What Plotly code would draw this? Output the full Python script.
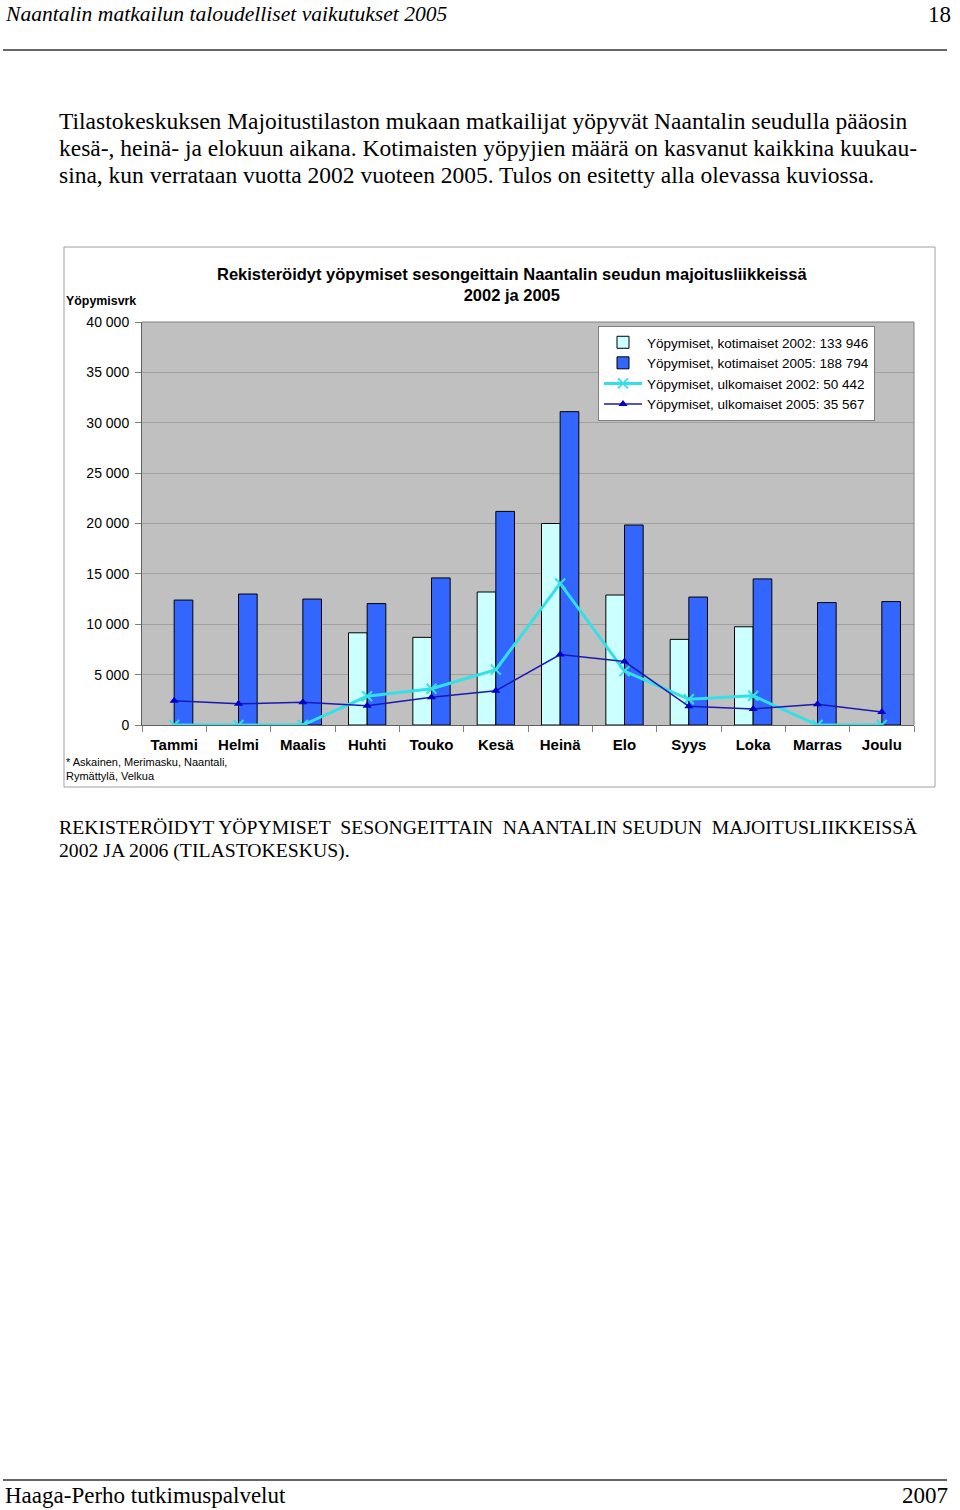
import plotly.graph_objects as go

# Kuukaudet ja yöpymiset (luettu kuvasta)
months = ["Tammi", "Helmi", "Maalis", "Huhti", "Touko", "Kesä",
          "Heinä", "Elo", "Syys", "Loka", "Marras", "Joulu"]
koti_2002 = [0, 0, 0, 9150, 8700, 13200, 20000, 12900, 8500, 9750, 0, 0]
koti_2005 = [12400, 13000, 12500, 12050, 14600, 21200, 31100, 19850, 12700, 14500, 12150, 12250]
ulko_2002 = [0, 0, 0, 2850, 3600, 5500, 14050, 5350, 2550, 2900, 0, 0]
ulko_2005 = [2400, 2100, 2250, 1900, 2750, 3400, 7000, 6300, 1850, 1600, 2050, 1300]

legend_names = [
    "Yöpymiset, kotimaiset 2002: 133 946",
    "Yöpymiset, kotimaiset 2005: 188 794",
    "Yöpymiset, ulkomaiset 2002: 50 442",
    "Yöpymiset, ulkomaiset 2005: 35 567",
]

paragraph = [
    "Tilastokeskuksen Majoitustilaston mukaan matkailijat yöpyvät Naantalin seudulla pääosin",
    "kesä-, heinä- ja elokuun aikana. Kotimaisten yöpyjien määrä on kasvanut kaikkina kuukau-",
    "sina, kun verrataan vuotta 2002 vuoteen 2005. Tulos on esitetty alla olevassa kuviossa.",
]
caption = [
    "REKISTERÖIDYT YÖPYMISET  SESONGEITTAIN  NAANTALIN SEUDUN  MAJOITUSLIIKKEISSÄ",
    "2002 JA 2006 (TILASTOKESKUS).",
]

W, H = 960, 1510
PL, PR, PT, PB = 142, 914, 322, 725  # plot area in page pixels


def px(x):
    return (x - PL) / (PR - PL)


def py(y):
    return (PB - y) / (PB - PT)


SANS = "Liberation Sans, Arial, sans-serif"
SERIF = "Liberation Serif, Times New Roman, serif"

fig = go.Figure()
# empty months are not drawn as bars in the original
fig.add_trace(go.Bar(x=months, y=[v if v else None for v in koti_2002], name=legend_names[0],
                     marker=dict(color="#CCFFFF", line=dict(color="black", width=1))))
fig.add_trace(go.Bar(x=months, y=koti_2005, name=legend_names[1],
                     marker=dict(color="#3366FF", line=dict(color="black", width=1))))
fig.add_trace(go.Scatter(x=months, y=ulko_2002, name=legend_names[2], mode="lines+markers",
                         line=dict(color="#33E0E8", width=3),
                         marker=dict(symbol="x-thin", size=10, line=dict(color="#33E0E8", width=2))))
fig.add_trace(go.Scatter(x=months, y=ulko_2005, name=legend_names[3], mode="lines+markers",
                         line=dict(color="#1A1AB0", width=1.5),
                         marker=dict(symbol="triangle-up", size=8, color="#0000CC")))

fig.update_layout(
    width=W, height=H, autosize=False,
    margin=dict(l=PL, r=W - PR, t=PT, b=H - PB),
    paper_bgcolor="white", plot_bgcolor="#C0C0C0",
    barmode="group", bargap=0.42, bargroupgap=0,
    separators=", ",
    font=dict(family=SANS, color="black", size=13),
    legend=dict(x=px(598), y=py(326), xanchor="left", yanchor="top",
                bgcolor="white", bordercolor="#808080", borderwidth=1,
                font=dict(family=SANS, size=13.5), tracegroupgap=0,
                itemwidth=38),
    showlegend=True,
)

fig.update_xaxes(
    type="category", range=[-0.5, len(months) - 0.5], showgrid=False,
    ticks="outside", tickson="boundaries",
    ticklen=6, tickcolor="#808080", showline=True, linecolor="#606060",
    tickfont=dict(family=SANS, size=15, weight="bold"), ticklabelstandoff=6,
)
fig.update_yaxes(
    range=[0, 40000], dtick=5000, tickformat=",d",
    gridcolor="#A0A0A0", gridwidth=1, zeroline=False,
    ticks="outside", ticklen=6, tickcolor="#808080",
    showline=True, linecolor="#606060", mirror=False,
    tickfont=dict(family=SANS, size=14), ticklabelstandoff=3,
)

annotations = [
    # chart texts
    dict(x=px(512), y=py(284), text="<b>Rekisteröidyt yöpymiset sesongeittain Naantalin seudun majoitusliikkeissä<br>2002 ja 2005</b>",
         font=dict(family=SANS, size=16.5), xanchor="center", yanchor="middle", showarrow=False),
    dict(x=px(64), y=py(301), text="<b>Yöpymisvrk</b>", font=dict(family=SANS, size=12.4),
         xanchor="left", yanchor="middle", showarrow=False),
    dict(x=px(64), y=py(769), text="* Askainen, Merimasku, Naantali,<br>Rymättylä, Velkua",
         font=dict(family=SANS, size=11), xanchor="left", yanchor="middle", showarrow=False, align="left"),
    # page header and footer
    dict(x=px(3), y=py(0), text="<i>Naantalin matkailun taloudelliset vaikutukset 2005</i>",
         font=dict(family=SERIF, size=21.6), xanchor="left", yanchor="top", showarrow=False),
    dict(x=px(953), y=py(0), text="18", font=dict(family=SERIF, size=23),
         xanchor="right", yanchor="top", showarrow=False),
    dict(x=px(3), y=py(H), text="Haaga-Perho tutkimuspalvelut", font=dict(family=SERIF, size=23),
         xanchor="left", yanchor="bottom", showarrow=False),
    dict(x=px(950), y=py(H), text="2007", font=dict(family=SERIF, size=23),
         xanchor="right", yanchor="bottom", showarrow=False),
]
for i, line in enumerate(paragraph):
    annotations.append(dict(x=px(57), y=py(121 + 27 * i), text=line, font=dict(family=SERIF, size=23.5),
                            xanchor="left", yanchor="middle", showarrow=False))
for i, line in enumerate(caption):
    annotations.append(dict(x=px(57), y=py(827 + 23 * i), text=line, font=dict(family=SERIF, size=19.7),
                            xanchor="left", yanchor="middle", showarrow=False))
for a in annotations:
    a.update(xref="paper", yref="paper")
fig.update_layout(annotations=annotations)

shapes = [
    # chart frame
    dict(type="rect", x0=px(64), x1=px(935), y0=py(787), y1=py(247),
         line=dict(color="#A0A0A0", width=1), fillcolor="rgba(0,0,0,0)", layer="below"),
    # page rules
    dict(type="line", x0=px(3), x1=px(947), y0=py(50), y1=py(50), line=dict(color="#333333", width=1.5)),
    dict(type="line", x0=px(3), x1=px(947), y0=py(1480), y1=py(1480), line=dict(color="#333333", width=1.5)),
    # top and right border of plot area
    dict(type="line", x0=0, x1=1, y0=1, y1=1, line=dict(color="#808080", width=1)),
    dict(type="line", x0=1, x1=1, y0=0, y1=1, line=dict(color="#808080", width=1)),
]
for s in shapes:
    s.update(xref="paper", yref="paper")
fig.update_layout(shapes=shapes)

# drop the default 8px body margin so the figure fills the page exactly
fig.write_html("out.html", config={"displayModeBar": False},
               post_script="document.body.style.margin='0';document.body.style.overflow='hidden';")
